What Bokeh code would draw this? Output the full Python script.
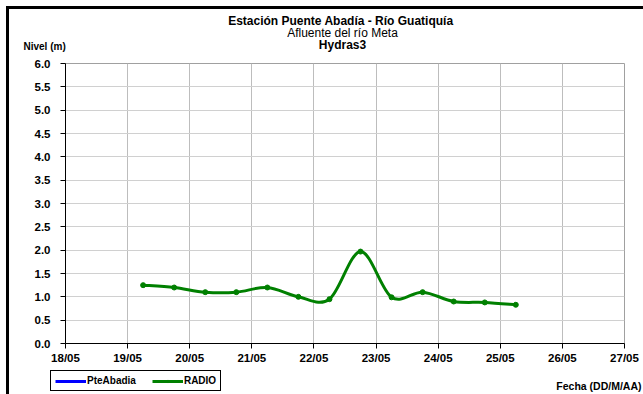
import pandas as pd
from bokeh.plotting import figure
from bokeh.layouts import column
from bokeh.models import (Range1d, FixedTicker, DatetimeTickFormatter, NumeralTickFormatter,
                          Legend, LegendItem)
from bokeh.core.properties import value
from bokeh.embed import file_html
from bokeh.resources import INLINE

# ---- data ----
radio_time = ["2010-05-19 06:00", "2010-05-19 18:00", "2010-05-20 06:00", "2010-05-20 18:00",
              "2010-05-21 06:00", "2010-05-21 18:00", "2010-05-22 06:00", "2010-05-22 18:00",
              "2010-05-23 06:00", "2010-05-23 18:00", "2010-05-24 06:00", "2010-05-24 18:00",
              "2010-05-25 06:00"]
radio_level = [1.25, 1.20, 1.10, 1.10, 1.20, 1.00, 0.95, 1.97, 0.99, 1.10, 0.90, 0.88, 0.83]
pte_time = []
pte_level = []
tick_dates = ["2010-05-18", "2010-05-19", "2010-05-20", "2010-05-21", "2010-05-22",
              "2010-05-23", "2010-05-24", "2010-05-25", "2010-05-26", "2010-05-27"]
y_ticks = [0.0, 0.5, 1.0, 1.5, 2.0, 2.5, 3.0, 3.5, 4.0, 4.5, 5.0, 5.5, 6.0]
series_names = ["PteAbadia", "RADIO"]

FONT = "Liberation Sans"
GREEN = "#008000"
BLUE = "#0000ff"

def ms(s):
    return pd.Timestamp(s).value / 1e6

xr = [ms(t) for t in radio_time]
yr = radio_level
ticks_ms = [ms(t) for t in tick_dates]

W = 643
HEAD_H, MAIN_H, FOOT_H = 55, 312, 27

def blank(h):
    f = figure(width=W, height=h, output_backend="svg", toolbar_location=None,
               x_range=Range1d(0, W), y_range=Range1d(h, 0),
               x_axis_location=None, y_axis_location=None,
               min_border=0, min_border_left=0, min_border_right=0,
               min_border_top=0, min_border_bottom=0)
    f.frame_align = False
    f.xgrid.visible = False
    f.ygrid.visible = False
    f.outline_line_color = None
    f.background_fill_alpha = 0
    f.border_fill_alpha = 0
    return f

# ---- header ----
head = blank(HEAD_H)
def htext(txt, x, y, size, bold=True, align="center"):
    head.text(x=[x], y=[y], text=[txt], text_font=value(FONT), text_font_size=size,
              text_font_style="bold" if bold else "normal", text_align=align,
              text_baseline="middle", text_color="black")
htext("Estación Puente Abadía  - Río Guatiquía", 342, 20.5, "12px")
htext("Afluente del río Meta", 342, 32.5, "12px", bold=False)
htext("Hydras3", 342, 44, "12px")
htext("Nivel (m)", 23, 46, "10px", align="left")

# ---- main plot ----
p = figure(width=W, height=MAIN_H, output_backend="svg", toolbar_location=None,
           x_range=Range1d(ticks_ms[0], ticks_ms[-1]), y_range=Range1d(0, 6),
           x_axis_type="datetime",
           min_border_left=65, min_border_right=19, min_border_top=8, min_border_bottom=24)
p.frame_align = False
p.background_fill_color = "white"
p.border_fill_alpha = 0
p.outline_line_color = "#a0a0a0"

p.xaxis.ticker = FixedTicker(ticks=ticks_ms)
p.xaxis.formatter = DatetimeTickFormatter(days="%d/%m", months="%d/%m", hours="%d/%m")
p.yaxis.ticker = FixedTicker(ticks=y_ticks)
p.yaxis.formatter = NumeralTickFormatter(format="0.0")
for ax in (p.xaxis, p.yaxis):
    ax.axis_line_color = "black"
    ax.axis_line_width = 1
    ax.major_tick_line_color = "black"
    ax.major_tick_out = 5
    ax.major_tick_in = 0
    ax.minor_tick_line_color = None
    ax.major_label_text_font = FONT
    ax.major_label_text_font_style = "bold"
    ax.major_label_text_font_size = "11.5px"
    ax.major_label_text_color = "black"
p.yaxis.major_label_standoff = 10
p.xaxis.major_label_standoff = 3
p.xgrid.grid_line_color = "#bdbdbd"
p.ygrid.grid_line_color = "#d0d0d0"
p.xgrid.ticker = FixedTicker(ticks=ticks_ms)
p.ygrid.ticker = FixedTicker(ticks=y_ticks)

# smoothed line (Bezier segments through the data points, Excel-like smoothing)
n = len(xr)
x0, y0, x1, y1, cx0, cy0, cx1, cy1 = [], [], [], [], [], [], [], []
for i in range(n - 1):
    pm = i - 1 if i > 0 else i
    pn = i + 2 if i + 2 < n else i + 1
    x0.append(xr[i]); y0.append(yr[i]); x1.append(xr[i + 1]); y1.append(yr[i + 1])
    cx0.append(xr[i] + (xr[i + 1] - xr[pm]) / 6.0)
    cy0.append(yr[i] + (yr[i + 1] - yr[pm]) / 6.0)
    cx1.append(xr[i + 1] - (xr[pn] - xr[i]) / 6.0)
    cy1.append(yr[i + 1] - (yr[pn] - yr[i]) / 6.0)
p.line(x=pte_time, y=pte_level, line_color=BLUE, line_width=3)
p.bezier(x0=x0, y0=y0, x1=x1, y1=y1, cx0=cx0, cy0=cy0, cx1=cx1, cy1=cy1,
         line_color=GREEN, line_width=3)
p.scatter(x=xr, y=yr, marker="circle", size=5, fill_color=GREEN, line_color=GREEN)

# ---- footer: legend and x-axis title ----
# legend proxies: series data drawn in the footer's own (pixel) ranges, far outside its view
foot = blank(FOOT_H)
lb = foot.line(x=xr, y=yr, line_color=BLUE, line_width=3)
lg = foot.line(x=xr, y=yr, line_color=GREEN, line_width=3)
lm = foot.scatter(x=xr, y=yr, marker="circle", size=5, fill_color=GREEN, line_color=GREEN)
legend = Legend(items=[LegendItem(label=series_names[0], renderers=[lb]),
                       LegendItem(label=series_names[1], renderers=[lg, lm])],
                location=(50, 3), orientation="horizontal",
                border_line_color="black", border_line_width=1, border_line_alpha=1,
                background_fill_color="white", background_fill_alpha=1,
                label_text_font=FONT, label_text_font_style="bold",
                label_text_color="black",
                label_text_font_size="10px", glyph_width=31, glyph_height=6,
                label_standoff=1, spacing=16, padding=4, margin=0,
                label_height=5)
foot.add_layout(legend)
foot.text(x=[641], y=[18], text=["Fecha (DD/M/AA)"], text_font=value(FONT),
          text_font_size="10.5px", text_font_style="bold", text_align="right",
          text_baseline="middle", text_color="black")

page = column(head, p, foot, spacing=0)
page.styles = {"box-shadow": "inset 6px 6px 0 0 #fff, inset 9px 9px 0 0 #000",
               "background-color": "#fff"}

open("out.html", "w").write(file_html(page, INLINE))
